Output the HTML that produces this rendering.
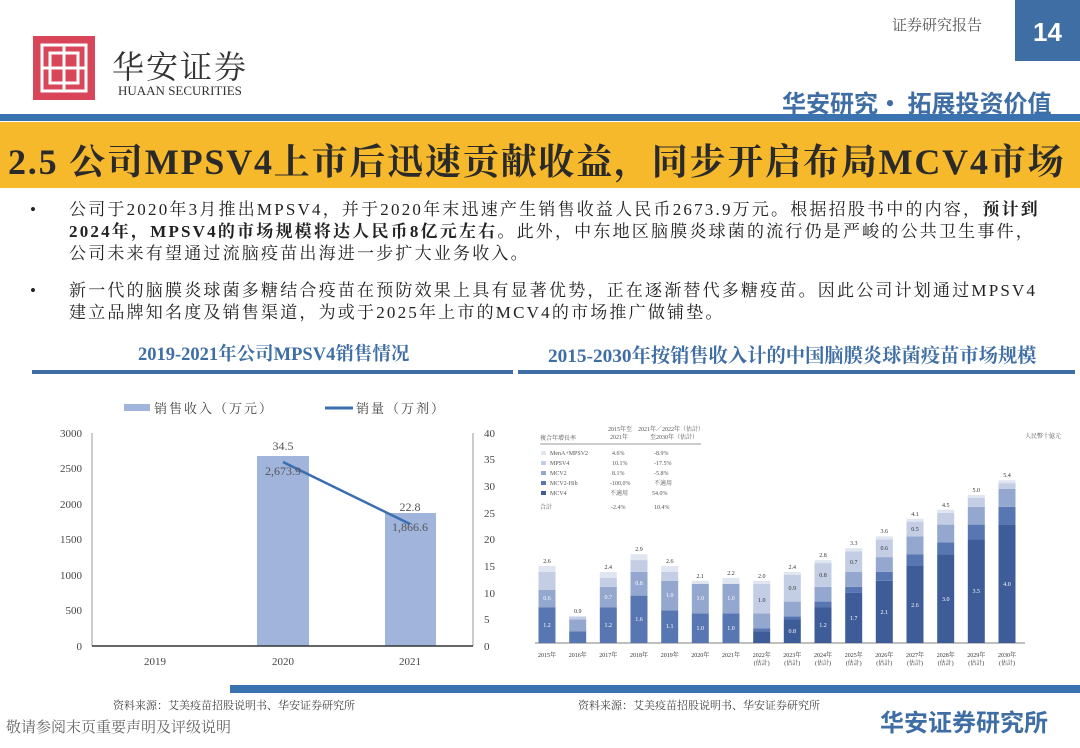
<!DOCTYPE html>
<html><head><meta charset="utf-8">
<style>
*{margin:0;padding:0;box-sizing:border-box}
body{width:1080px;height:748px;background:#fff;position:relative;overflow:hidden;font-family:"Liberation Serif","Noto Serif CJK SC",serif;color:#222}
.a{position:absolute;white-space:nowrap}
.t{font-size:17px;line-height:22px;letter-spacing:2.2px}
</style></head><body>
<div class="a" style="left:33px;top:36px;width:62px;height:64px;background:#d9465a"></div>
<svg class="a" style="left:33px;top:36px" width="62" height="64"><g fill="none" stroke="#fff" stroke-width="3"><rect x="9" y="9" width="44" height="46"/><rect x="17" y="17" width="28" height="30"/><line x1="31" y1="9" x2="31" y2="55"/><line x1="9" y1="32" x2="53" y2="32"/></g></svg>
<div class="a" style="left:112px;top:42px;font-size:32px;font-family:'Noto Serif CJK SC',serif;color:#333;letter-spacing:2px">华安证券</div>
<div class="a" style="left:118px;top:83px;font-size:13px;color:#333">HUAAN SECURITIES</div>
<div class="a" style="left:892px;top:14px;font-size:15px;color:#555">证券研究报告</div>
<div class="a" style="left:1015px;top:0;width:65px;height:61px;background:#3f6ea5;color:#fff;font:bold 26px 'Liberation Sans',sans-serif;text-align:center;line-height:64px">14</div>
<div class="a" style="left:782px;top:84px;font:bold 24px 'Noto Sans CJK SC',sans-serif;color:#3f6ea5">华安研究• 拓展投资价值</div>
<div class="a" style="left:0;top:114px;width:1080px;height:7px;background:#3a73b0"></div>
<div class="a" style="left:0;top:122px;width:1080px;height:66px;background:#f7b92c"></div>
<div class="a" style="left:8px;top:134px;font-size:36px;letter-spacing:1.8px;font-weight:bold;color:#2a2a2a;font-family:'Liberation Serif','Noto Serif CJK SC',serif">2.5 公司MPSV4上市后迅速贡献收益，同步开启布局MCV4市场</div>
<div class="a t" style="left:30px;top:199px">•</div>
<div class="a t" style="left:69px;top:199px">公司于2020年3月推出MPSV4，并于2020年末迅速产生销售收益人民币2673.9万元。根据招股书中的内容，<b>预计到</b></div>
<div class="a t" style="left:69px;top:221px"><b>2024年，MPSV4的市场规模将达人民币8亿元左右</b>。此外，中东地区脑膜炎球菌的流行仍是严峻的公共卫生事件，</div>
<div class="a t" style="left:69px;top:243px">公司未来有望通过流脑疫苗出海进一步扩大业务收入。</div>
<div class="a t" style="left:30px;top:280px">•</div>
<div class="a t" style="left:69px;top:280px">新一代的脑膜炎球菌多糖结合疫苗在预防效果上具有显著优势，正在逐渐替代多糖疫苗。因此公司计划通过MPSV4</div>
<div class="a t" style="left:69px;top:302px">建立品牌知名度及销售渠道，为或于2025年上市的MCV4的市场推广做铺垫。</div>
<div class="a" style="left:138px;top:340px;font-size:18.5px;font-weight:bold;color:#3f6ea5">2019-2021年公司MPSV4销售情况</div>
<div class="a" style="left:548px;top:340px;font-size:19.3px;font-weight:bold;color:#3f6ea5">2015-2030年按销售收入计的中国脑膜炎球菌疫苗市场规模</div>
<div class="a" style="left:32px;top:370px;width:481px;height:4px;background:#3f6ea5"></div>
<div class="a" style="left:518px;top:370px;width:557px;height:4px;background:#3f6ea5"></div>
<svg class="a" style="left:0;top:0" width="1080" height="748" font-family="Liberation Serif,Noto Serif CJK SC,serif">
<rect x="124" y="404" width="26" height="7" fill="#a0b4dc"/>
<text x="154" y="413" font-size="13" letter-spacing="2" fill="#444">销售收入（万元）</text>
<line x1="325" y1="408" x2="353" y2="408" stroke="#3a6eb0" stroke-width="3"/>
<text x="356" y="413" font-size="13" letter-spacing="2" fill="#444">销量（万剂）</text>
<g font-size="11" fill="#444" text-anchor="end">
<text x="82" y="437">3000</text><text x="82" y="472">2500</text><text x="82" y="508">2000</text><text x="82" y="543">1500</text><text x="82" y="579">1000</text><text x="82" y="614">500</text><text x="82" y="650">0</text></g>
<g font-size="11" fill="#444">
<text x="484" y="437">40</text><text x="484" y="463">35</text><text x="484" y="490">30</text><text x="484" y="517">25</text><text x="484" y="543">20</text><text x="484" y="570">15</text><text x="484" y="597">10</text><text x="484" y="623">5</text><text x="484" y="650">0</text></g>
<line x1="92" y1="433" x2="92" y2="646" stroke="#999"/>
<line x1="473" y1="433" x2="473" y2="646" stroke="#999"/>
<rect x="257" y="456" width="52" height="190" fill="#a0b4dc"/>
<rect x="385" y="513" width="51" height="133" fill="#a0b4dc"/>
<line x1="92" y1="646" x2="473" y2="646" stroke="#333" stroke-width="1.5"/>
<line x1="283" y1="462" x2="410" y2="524" stroke="#3a6eb0" stroke-width="2.5"/>
<g font-size="12" text-anchor="middle" fill="#555">
<text x="283" y="450">34.5</text><text x="283" y="475">2,673.9</text>
<text x="410" y="511">22.8</text><text x="410" y="531">1,866.6</text></g>
<g font-size="11" fill="#444" text-anchor="middle"><text x="155" y="665">2019</text><text x="283" y="665">2020</text><text x="410" y="665">2021</text></g>
<g font-size="6" fill="#555">
<text x="540" y="440">複合年增長率</text><text x="608" y="431">2015年至</text><text x="610" y="439">2021年</text>
<text x="638" y="431">2021年／2022年（估計）</text><text x="650" y="439">至2030年（估計）</text>
<line x1="540" y1="444" x2="701" y2="444" stroke="#777" stroke-width="0.7"/>
<rect x="541" y="451" width="5" height="4" fill="#dfe5f1"/><text x="550" y="455">MenA+MPSV2</text><text x="612" y="455">4.6%</text><text x="654" y="455">-8.9%</text>
<rect x="541" y="461" width="5" height="4" fill="#c3cee5"/><text x="550" y="465">MPSV4</text><text x="612" y="465">10.1%</text><text x="654" y="465">-17.5%</text>
<rect x="541" y="471" width="5" height="4" fill="#93a7cf"/><text x="550" y="475">MCV2</text><text x="612" y="475">8.1%</text><text x="654" y="475">-5.8%</text>
<rect x="541" y="481" width="5" height="4" fill="#5877b2"/><text x="550" y="485">MCV2-Hib</text><text x="610" y="485">-100.0%</text><text x="654" y="485">不適用</text>
<rect x="541" y="491" width="5" height="4" fill="#3d5c98"/><text x="550" y="495">MCV4</text><text x="610" y="495">不適用</text><text x="652" y="495">54.0%</text>
<text x="540" y="509">合計</text><text x="611" y="509">-2.4%</text><text x="654" y="509">10.4%</text>
<text x="1025" y="438">人民幣十億元</text></g>
<line x1="535" y1="643" x2="1025" y2="643" stroke="#555" stroke-width="0.8"/>
<g fill="#5877b2">
<rect x="538.5" y="607.5" width="17" height="35.5"/><rect x="569.2" y="631.2" width="17" height="11.8"/><rect x="599.8" y="607.5" width="17" height="35.5"/><rect x="630.5" y="595.6" width="17" height="47.4"/><rect x="661.2" y="610.4" width="17" height="32.6"/><rect x="691.8" y="613.4" width="17" height="29.6"/><rect x="722.5" y="613.4" width="17" height="29.6"/>
<rect x="753.2" y="628.2" width="17" height="3"/><rect x="783.8" y="616.4" width="17" height="3"/><rect x="814.5" y="601.6" width="17" height="5.9"/><rect x="845.2" y="586.8" width="17" height="5.9"/><rect x="875.8" y="571.9" width="17" height="8.9"/><rect x="906.5" y="554.2" width="17" height="11.8"/><rect x="937.2" y="542.4" width="17" height="11.8"/><rect x="967.8" y="524.6" width="17" height="14.8"/><rect x="998.5" y="506.8" width="17" height="17.8"/></g>
<g fill="#3d5c98">
<rect x="753.2" y="631.2" width="17" height="11.8"/><rect x="783.8" y="619.3" width="17" height="23.7"/><rect x="814.5" y="607.5" width="17" height="35.5"/><rect x="845.2" y="592.7" width="17" height="50.3"/><rect x="875.8" y="580.8" width="17" height="62.2"/><rect x="906.5" y="566" width="17" height="77"/><rect x="937.2" y="554.2" width="17" height="88.8"/><rect x="967.8" y="539.4" width="17" height="103.6"/><rect x="998.5" y="524.6" width="17" height="118.4"/></g>
<g fill="#93a7cf">
<rect x="538.5" y="589.7" width="17" height="17.8"/><rect x="569.2" y="619.4" width="17" height="11.8"/><rect x="599.8" y="586.8" width="17" height="20.7"/><rect x="630.5" y="571.9" width="17" height="23.7"/><rect x="661.2" y="580.8" width="17" height="29.6"/><rect x="691.8" y="583.8" width="17" height="29.6"/><rect x="722.5" y="583.8" width="17" height="29.6"/>
<rect x="753.2" y="613.4" width="17" height="14.8"/><rect x="783.8" y="601.6" width="17" height="14.8"/><rect x="814.5" y="586.8" width="17" height="14.8"/><rect x="845.2" y="572" width="17" height="14.8"/><rect x="875.8" y="557.1" width="17" height="14.8"/><rect x="906.5" y="536.4" width="17" height="17.8"/><rect x="937.2" y="524.6" width="17" height="17.8"/><rect x="967.8" y="506.8" width="17" height="17.8"/><rect x="998.5" y="489" width="17" height="17.8"/></g>
<g fill="#c3cee5">
<rect x="538.5" y="571.9" width="17" height="17.8"/><rect x="569.2" y="616.4" width="17" height="3"/><rect x="599.8" y="577.9" width="17" height="8.9"/><rect x="630.5" y="560.1" width="17" height="11.8"/><rect x="661.2" y="571.9" width="17" height="8.9"/>
<rect x="753.2" y="583.8" width="17" height="29.6"/><rect x="783.8" y="575" width="17" height="26.6"/><rect x="814.5" y="563.1" width="17" height="23.7"/><rect x="845.2" y="551.3" width="17" height="20.7"/><rect x="875.8" y="539.4" width="17" height="17.7"/><rect x="906.5" y="521.6" width="17" height="14.8"/><rect x="937.2" y="512.8" width="17" height="11.8"/><rect x="967.8" y="497.9" width="17" height="8.9"/><rect x="998.5" y="483.1" width="17" height="5.9"/></g>
<g fill="#dfe5f1">
<rect x="538.5" y="566" width="17" height="5.9"/><rect x="599.8" y="572" width="17" height="5.9"/><rect x="630.5" y="554.2" width="17" height="5.9"/><rect x="661.2" y="566" width="17" height="5.9"/><rect x="691.8" y="580.8" width="17" height="3"/><rect x="722.5" y="577.9" width="17" height="5.9"/>
<rect x="753.2" y="580.8" width="17" height="3"/><rect x="783.8" y="572" width="17" height="3"/><rect x="814.5" y="560.1" width="17" height="3"/><rect x="845.2" y="548.3" width="17" height="3"/><rect x="875.8" y="536.4" width="17" height="3"/><rect x="906.5" y="518.7" width="17" height="3"/><rect x="937.2" y="509.8" width="17" height="3"/><rect x="967.8" y="495" width="17" height="3"/><rect x="998.5" y="480.2" width="17" height="3"/></g>
<g font-size="6" fill="#333" text-anchor="middle">
<text x="547" y="563">2.6</text><text x="577.7" y="613">0.9</text><text x="608.3" y="569">2.4</text><text x="639" y="551">2.9</text><text x="669.7" y="563">2.6</text><text x="700.3" y="578">2.1</text><text x="731" y="575">2.2</text><text x="761.7" y="578">2.0</text><text x="792.3" y="569">2.4</text><text x="823" y="557">2.8</text><text x="853.7" y="545">3.3</text><text x="884.3" y="533">3.6</text><text x="915" y="516">4.1</text><text x="945.7" y="507">4.5</text><text x="976.3" y="492">5.0</text><text x="1007" y="477">5.4</text>
</g>
<g font-size="6" fill="#fff" text-anchor="middle">
<text x="547" y="627">1.2</text><text x="547" y="600">0.6</text><text x="608.3" y="627">1.2</text><text x="608.3" y="599">0.7</text><text x="639" y="621">1.6</text><text x="639" y="585">0.8</text><text x="669.7" y="628">1.1</text><text x="669.7" y="597">1.0</text><text x="700.3" y="630">1.0</text><text x="700.3" y="600">1.0</text><text x="731" y="630">1.0</text><text x="731" y="600">1.0</text><text x="792.3" y="633">0.8</text><text x="823" y="627">1.2</text><text x="853.7" y="620">1.7</text><text x="884.3" y="614">2.1</text><text x="915" y="607">2.6</text><text x="945.7" y="601">3.0</text><text x="976.3" y="593">3.5</text><text x="1007" y="586">4.0</text>
</g>
<g font-size="6" fill="#333" text-anchor="middle">
<text x="761.7" y="602">1.0</text><text x="792.3" y="590">0.9</text><text x="823" y="577">0.8</text><text x="853.7" y="564">0.7</text><text x="884.3" y="550">0.6</text><text x="915" y="531">0.5</text>
</g>
<g font-size="6" fill="#333" text-anchor="middle">
<text x="547" y="657">2015年</text><text x="577.7" y="657">2016年</text><text x="608.3" y="657">2017年</text><text x="639" y="657">2018年</text><text x="669.7" y="657">2019年</text><text x="700.3" y="657">2020年</text><text x="731" y="657">2021年</text>
<text x="761.7" y="657">2022年</text><text x="792.3" y="657">2023年</text><text x="823" y="657">2024年</text><text x="853.7" y="657">2025年</text><text x="884.3" y="657">2026年</text><text x="915" y="657">2027年</text><text x="945.7" y="657">2028年</text><text x="976.3" y="657">2029年</text><text x="1007" y="657">2030年</text>
<text x="761.7" y="665">(估計)</text><text x="792.3" y="665">(估計)</text><text x="823" y="665">(估計)</text><text x="853.7" y="665">(估計)</text><text x="884.3" y="665">(估計)</text><text x="915" y="665">(估計)</text><text x="945.7" y="665">(估計)</text><text x="976.3" y="665">(估計)</text><text x="1007" y="665">(估計)</text>
</g>
</svg>
<div class="a" style="left:230px;top:685px;width:850px;height:8px;background:#3a73b0"></div>
<div class="a" style="left:113px;top:697px;font-size:11px;color:#444">资料来源：艾美疫苗招股说明书、华安证券研究所</div>
<div class="a" style="left:578px;top:697px;font-size:11px;color:#444">资料来源：艾美疫苗招股说明书、华安证券研究所</div>
<div class="a" style="left:6px;top:716px;font-size:15px;color:#666">敬请参阅末页重要声明及评级说明</div>
<div class="a" style="left:880px;top:703px;font:bold 24px 'Noto Sans CJK SC',sans-serif;color:#3f6ea5">华安证券研究所</div>
</body></html>
